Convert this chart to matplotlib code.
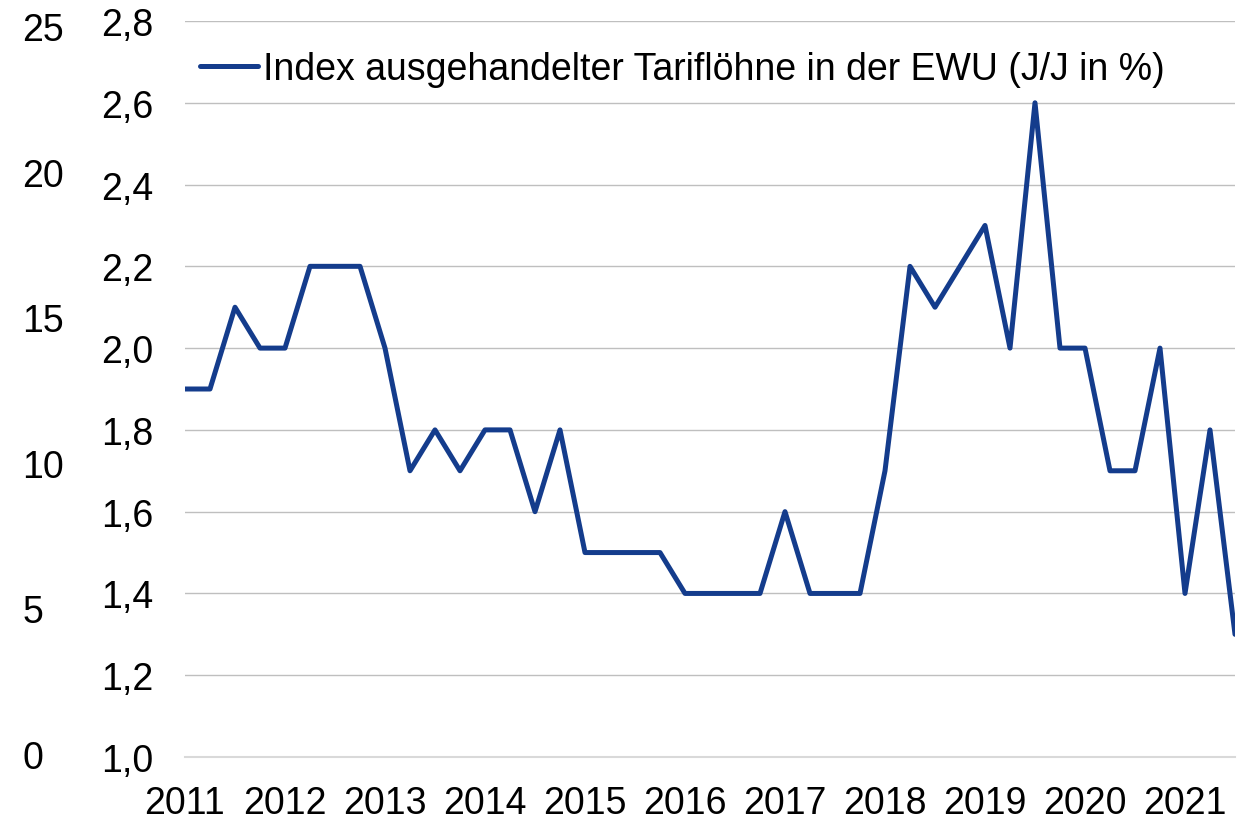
import numpy as np
import matplotlib
matplotlib.use("Agg")
from matplotlib import pyplot as plt
from matplotlib.ticker import FuncFormatter

# quarterly values, 2011Q1 .. 2021Q3
wages = [1.9, 1.9, 2.1, 2.0, 2.0, 2.2, 2.2, 2.2,
         2.0, 1.7, 1.8, 1.7, 1.8, 1.8, 1.6, 1.8,
         1.5, 1.5, 1.5, 1.5, 1.4, 1.4, 1.4, 1.4,
         1.6, 1.4, 1.4, 1.4, 1.7, 2.2, 2.1, 2.2,
         2.3, 2.0, 2.6, 2.0, 2.0, 1.7, 1.7, 2.0,
         1.4, 1.8, 1.3]
years = list(range(2011, 2022))
left_ticks = [1.0, 1.2, 1.4, 1.6, 1.8, 2.0, 2.2, 2.4, 2.6, 2.8]
sec_ticks = [0, 5, 10, 15, 20, 25]
legend_label = "Index ausgehandelter Tariflöhne in der EWU (J/J in %)"

plt.rcParams['font.family'] = ['Liberation Sans', 'DejaVu Sans']
FS = 27

fig = plt.figure(figsize=(12.43, 8.2), dpi=100)
ax = fig.add_axes([185/1243, 1-758/820, (1235-185)/1243, (758-22)/820])

x = np.arange(len(wages))
ax.plot(x, wages, color="#143c8c", lw=3.6, label=legend_label,
        solid_joinstyle="round", solid_capstyle="round")

ax.set_xlim(0, len(wages) - 1)
ax.set_ylim(1.0, 2.8)
ax.set_yticks(left_ticks)
ax.yaxis.set_major_formatter(FuncFormatter(lambda v, p: f"{v:.1f}".replace(".", ",")))
ax.set_xticks([4 * i for i in range(len(years))])
ax.set_xticklabels([str(y) for y in years])
ax.tick_params(axis="both", length=0, labelsize=FS)
ax.tick_params(axis="y", pad=23)
ax.tick_params(axis="x", pad=20)
ax.grid(axis="y", color="#bfbfbf", lw=1)
ax.set_axisbelow(True)
for s in ax.spines.values():
    s.set_visible(False)
ax.spines["bottom"].set_visible(True)
ax.spines["bottom"].set_color("#d9d9d9")
ax.spines["bottom"].set_linewidth(1.5)

# secondary (empty) scale shown on the left
ax2 = ax.twinx()
ax2.set_ylim(-0.1, 25.17)
ax2.set_yticks(sec_ticks)
ax2.yaxis.set_ticks_position("left")
ax2.tick_params(axis="y", length=0, labelsize=FS, pad=117)
for t in ax2.get_yticklabels():
    t.set_horizontalalignment("left")
for s in ax2.spines.values():
    s.set_visible(False)

leg = ax.legend(loc="upper left", bbox_to_anchor=(0.0, 0.98), frameon=False,
                fontsize=FS, handlelength=1.55, handletextpad=0.12, borderaxespad=0)

fig.savefig("out.png", dpi=100)
